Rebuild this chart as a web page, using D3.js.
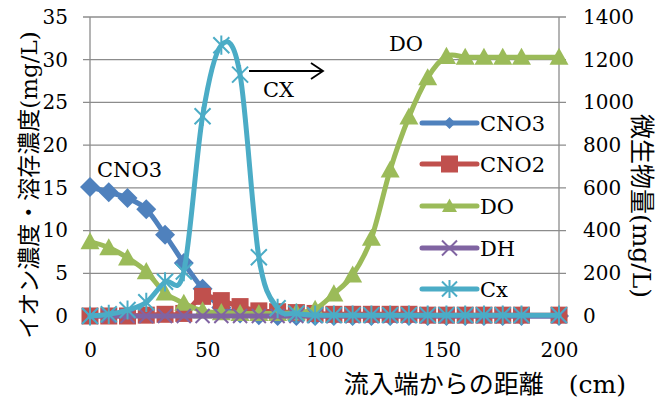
<!DOCTYPE html>
<html>
<head>
<meta charset="utf-8">
<script src="https://cdn.jsdelivr.net/npm/d3@7"></script>
<style>
  body { margin: 0; background: #fff; }
</style>
</head>
<body>
<script>
// distance from inlet (cm)
const dist = [0, 8, 16, 24, 32, 40, 48, 56, 64, 72, 80, 88, 96, 104, 112, 120, 128, 136, 144, 152, 160, 168, 176, 184, 200];

// left axis series (mg/L)
const cno3 = [15.1, 14.5, 13.8, 12.5, 9.5, 6.2, 3.2, 1.0, 0.3, 0.1, 0, 0, 0, 0, 0, 0, 0, 0, 0, 0, 0, 0, 0, 0, 0];
const cno2 = [0, 0, 0, 0.1, 0.2, 0.3, 2.3, 1.8, 1.1, 0.6, 0.5, 0.4, 0.3, 0.2, 0.2, 0.2, 0.2, 0.2, 0.1, 0.1, 0.1, 0.1, 0.1, 0.1, 0.1];
const dox  = [8.7, 8.0, 6.8, 5.2, 2.7, 1.5, 0.6, 0.4, 0.3, 0.3, 0.3, 0.4, 0.8, 2.6, 4.8, 9.1, 17.1, 23.3, 27.9, 30.4, 30.3, 30.3, 30.3, 30.3, 30.3];
const dh   = [0, 0, 0, 0, 0, 0, 0, 0, 0, 0, 0, 0, 0, 0, 0, 0, 0, 0, 0, 0, 0, 0, 0, 0, 0];
// right axis series (microbe amount, mg/L)
const cx   = [0, 8, 28, 64, 160, 208, 935, 1268, 1130, 275, 36, 12, 4, 4, 4, 4, 4, 4, 4, 4, 4, 4, 4, 4, 4];

const xTicks = [0, 50, 100, 150, 200];
const leftTicks = [0, 5, 10, 15, 20, 25, 30, 35];
const rightTicks = [0, 200, 400, 600, 800, 1000, 1200, 1400];

const FONT = "'DejaVu Serif', 'Noto Sans CJK JP', serif";
const W = 671, H = 403;
const margin = {top: 17, right: 112, bottom: 87, left: 90},
    width = W - margin.left - margin.right,
    height = H - margin.top - margin.bottom;

const svg = d3.select("body").append("svg")
    .attr("width", W)
    .attr("height", H)
    .attr("font-family", FONT);
const g = svg.append("g")
    .attr("transform", "translate(" + margin.left + "," + margin.top + ")");

const x = d3.scaleLinear().domain([0, 200]).range([0, width]);
const yL = d3.scaleLinear().domain([0, 35]).range([height, 0]);
const yR = d3.scaleLinear().domain([0, 1400]).range([height, 0]);

// gridlines (extend out a little as tick marks)
g.selectAll(".grid").data(leftTicks).join("line")
    .attr("x1", -7).attr("x2", width + 7)
    .attr("y1", d => yL(d)).attr("y2", d => yL(d))
    .attr("stroke", "#8c8c8c").attr("stroke-width", 1.3);
// vertical axis lines
[0, 200].forEach(v => {
  g.append("line")
    .attr("x1", x(v)).attr("x2", x(v))
    .attr("y1", 0).attr("y2", height + 7)
    .attr("stroke", "#8c8c8c").attr("stroke-width", 1.3);
});

// axis labels via d3 axes
const fs = 20, fsLab = 21;
const axL = g.append("g").call(d3.axisLeft(yL).tickValues(leftTicks).tickSize(0).tickPadding(22));
const axR = g.append("g").attr("transform", "translate(" + width + ",0)")
    .call(d3.axisRight(yR).tickValues(rightTicks).tickFormat(d3.format("d")).tickSize(0).tickPadding(24));
const axB = g.append("g").attr("transform", "translate(0," + height + ")")
    .call(d3.axisBottom(x).tickValues(xTicks).tickSize(0).tickPadding(27));
[axL, axR, axB].forEach(a => {
  a.attr("font-family", FONT).attr("font-size", fs);
  a.select(".domain").remove();
  a.selectAll("text").attr("fill", "#000");
});

// marker drawers
function marker(sel, type, color, s) {
  if (type === "diamond") {
    sel.append("path").attr("d", `M0,${-s}L${s},0L0,${s}L${-s},0Z`).attr("fill", color);
  } else if (type === "square") {
    sel.append("rect").attr("x", -s).attr("y", -s).attr("width", 2 * s).attr("height", 2 * s).attr("fill", color);
  } else if (type === "triangle") {
    sel.append("path").attr("d", `M0,${-s}L${s},${s * 0.8}L${-s},${s * 0.8}Z`).attr("fill", color);
  } else if (type === "x") {
    sel.append("path").attr("d", `M${-s},${-s}L${s},${s}M${-s},${s}L${s},${-s}`)
      .attr("stroke", color).attr("stroke-width", 2).attr("fill", "none");
  } else if (type === "star") {
    sel.append("path").attr("d", `M${-s},${-s}L${s},${s}M${-s},${s}L${s},${-s}M0,${-s * 1.2}L0,${s * 1.2}`)
      .attr("stroke", color).attr("stroke-width", 2).attr("fill", "none");
  }
}

const series = [
  {name: "CNO3", values: cno3, y: yL, color: "#4f81bd", m: "diamond", ms: 10, ls: 5},
  {name: "CNO2", values: cno2, y: yL, color: "#c0504d", m: "square", ms: 8.5, ls: 5},
  {name: "DO", values: dox, y: yL, color: "#9bbb59", m: "triangle", ms: 9.5, ls: 5},
  {name: "DH", values: dh, y: yL, color: "#8064a2", m: "x", ms: 7, ls: 5},
  {name: "Cx", values: cx, y: yR, color: "#4bacc6", m: "star", ms: 8, ls: 5}
];

series.forEach(s => {
  const pts = dist.map((d, i) => [x(d), s.y(s.values[i])]);
  const line = d3.line().curve(d3.curveCardinal.tension(0));
  g.append("path").attr("d", line(pts))
    .attr("fill", "none").attr("stroke", s.color).attr("stroke-width", s.ls)
    .attr("stroke-linejoin", "round").attr("stroke-linecap", "round");
  pts.forEach(p => {
    marker(g.append("g").attr("transform", `translate(${p[0]},${p[1]})`), s.m, s.color, s.ms);
  });
});

// legend
const legX = 422, legY = [123, 164, 206, 248, 289];
series.forEach((s, i) => {
  const lg = svg.append("g").attr("transform", `translate(${legX},${legY[i]})`);
  lg.append("line").attr("x1", 0).attr("x2", 55).attr("stroke", s.color)
    .attr("stroke-width", 5).attr("stroke-linecap", "round");
  marker(lg.append("g").attr("transform", "translate(27.5,0)"), s.m, s.color,
    s.m === "diamond" ? 6 : s.m === "square" ? 8.5 : 7.5);
  lg.append("text").attr("x", 58).attr("y", 8).attr("font-size", fsLab).text(s.name);
});

// annotations
svg.append("text").attr("x", 97).attr("y", 177).attr("font-size", fsLab).text("CNO3");
svg.append("text").attr("x", 389).attr("y", 51).attr("font-size", fsLab).text("DO");
svg.append("text").attr("x", 263).attr("y", 97).attr("font-size", fsLab).text("CX");
svg.append("path").attr("d", "M249,71L323,71M311,63L323,71L311,79")
  .attr("stroke", "#000").attr("stroke-width", 1.8).attr("fill", "none");

// axis titles
svg.append("text").attr("transform", "translate(37,185) rotate(-90)")
  .attr("text-anchor", "middle").attr("font-size", 23)
  .text("イオン濃度・溶存濃度(mg/L)");
svg.append("text").attr("transform", "translate(633,206) rotate(90)")
  .attr("text-anchor", "middle").attr("font-size", 25)
  .text("微生物量(mg/L)");
svg.append("text").attr("x", 626).attr("y", 393)
  .attr("text-anchor", "end").attr("font-size", 25)
  .text("流入端からの距離　(cm)");
</script>
</body>
</html>
